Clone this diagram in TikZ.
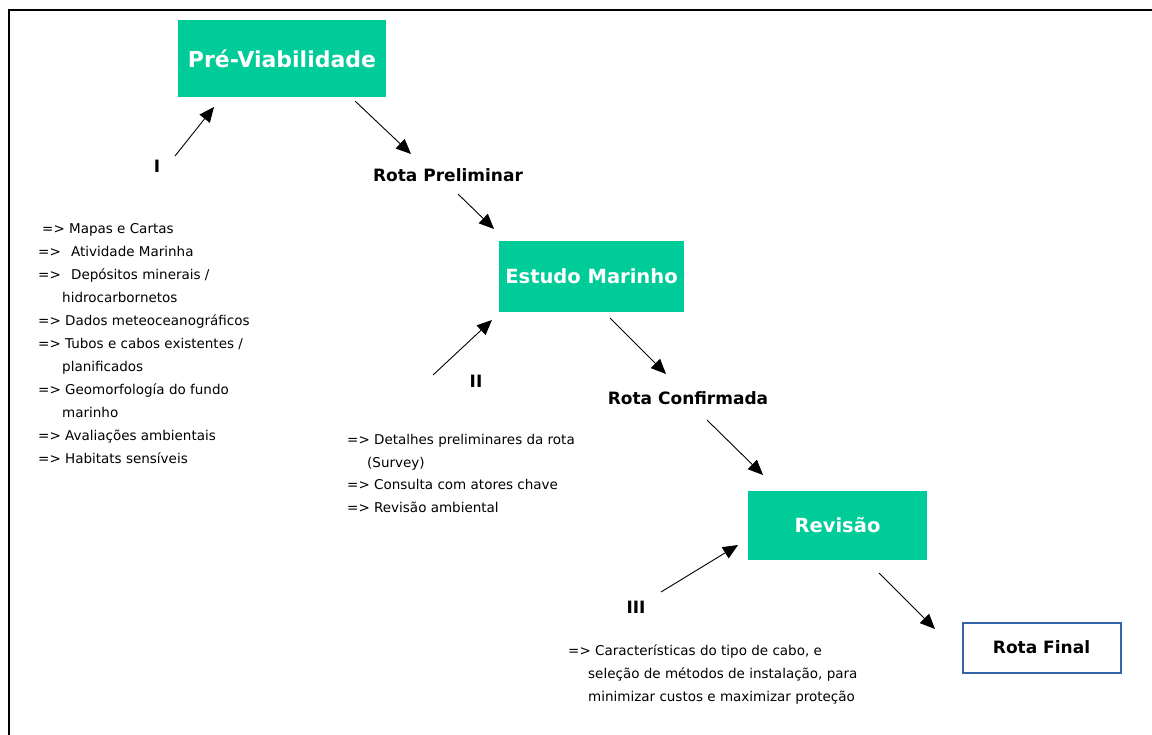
\documentclass[tikz,border=0pt]{standalone}
\usepackage{fontspec}
\setmainfont{DejaVu Sans}
\usetikzlibrary{arrows.meta}
\definecolor{boxgreen}{RGB}{0,204,153}
\definecolor{finalblue}{RGB}{52,100,168}
\tikzset{
  greenbox/.style={fill=boxgreen, draw=none, text=white, font=\bfseries\fontsize{19.5}{22}\selectfont, inner sep=0pt},
  lbl/.style={font=\bfseries\fontsize{17}{20}\selectfont, inner sep=0pt},
  listtxt/.style={font=\fontsize{13.5}{23}\selectfont, inner sep=0pt, anchor=base west},
  arr/.style={line width=0.9pt, -{Triangle[length=15pt,width=13pt]}},
}
\begin{document}
\begin{tikzpicture}[x=1pt,y=-1pt]
\useasboundingbox (0,0) rectangle (1152,735);
\draw[line width=2pt] (1152,10) -- (9,10) -- (9,735);

% boxes
\node[greenbox, minimum width=208pt, minimum height=77pt, font=\bfseries\fontsize{22}{24}\selectfont] (pv) at (282,58.5) {Pré-Viabilidade};
\node[greenbox, minimum width=185pt, minimum height=71pt] (em) at (591.5,276.5) {Estudo Marinho};
\node[greenbox, minimum width=179pt, minimum height=69pt] (rev) at (837.5,525.5) {Revisão};
\node[draw=finalblue, line width=2pt, fill=white, minimum width=158pt, minimum height=50pt, lbl] (rf) at (1041.5,647.5) {Rota Final};

% labels
\node[lbl] (l1) at (157,166) {I};
\node[lbl] (rp) at (448,175) {Rota Preliminar};
\node[lbl] (l2) at (476,381) {II};
\node[lbl] (rc) at (688,398) {Rota Confirmada};
\node[lbl] (l3) at (636,607) {III};

% list blocks
\node[listtxt] (t1) at (38,234) {\begin{minipage}[t]{260pt}\setlength{\baselineskip}{23pt}%
\hspace*{4pt}=> Mapas e Cartas\\
=>\hspace{6pt} Atividade Marinha\\
=>\hspace{6pt} Depósitos minerais /\\
\hspace*{24pt}hidrocarbornetos\\
=> Dados meteoceanográficos\\
=> Tubos e cabos existentes /\\
\hspace*{24pt}planificados\\
=> Geomorfología do fundo\\
\hspace*{24pt}marinho\\
=> Avaliações ambientais\\
=> Habitats sensíveis\end{minipage}};

\node[listtxt] (t2) at (347,444) {\begin{minipage}[t]{300pt}\setlength{\baselineskip}{23pt}%
=> Detalhes preliminares da rota\\
\hspace*{20pt}(Survey)\\
=> Consulta com atores chave\\
=> Revisão ambiental\end{minipage}};

\node[listtxt] (t3) at (568,655) {\begin{minipage}[t]{330pt}\setlength{\baselineskip}{23pt}%
=> Características do tipo de cabo, e\\
\hspace*{20pt}seleção de métodos de instalação, para\\
\hspace*{20pt}minimizar custos e maximizar proteção\end{minipage}};

% arrow end points
\coordinate (a1s) at (175,156); \coordinate (a1e) at (214,107);
\coordinate (a2s) at (355,101); \coordinate (a2e) at (411,154);
\coordinate (a3s) at (458,194); \coordinate (a3e) at (494,229);
\coordinate (a4s) at (433,375); \coordinate (a4e) at (492,320);
\coordinate (a5s) at (610,318); \coordinate (a5e) at (666,374);
\coordinate (a6s) at (707,420); \coordinate (a6e) at (763,475);
\coordinate (a7s) at (661,592); \coordinate (a7e) at (738,545);
\coordinate (a8s) at (879,573); \coordinate (a8e) at (935,629);

\draw[arr] (a1s) -- (a1e);
\draw[arr] (a2s) -- (a2e);
\draw[arr] (a3s) -- (a3e);
\draw[arr] (a4s) -- (a4e);
\draw[arr] (a5s) -- (a5e);
\draw[arr] (a6s) -- (a6e);
\draw[arr] (a7s) -- (a7e);
\draw[arr] (a8s) -- (a8e);
\end{tikzpicture}
\end{document}
